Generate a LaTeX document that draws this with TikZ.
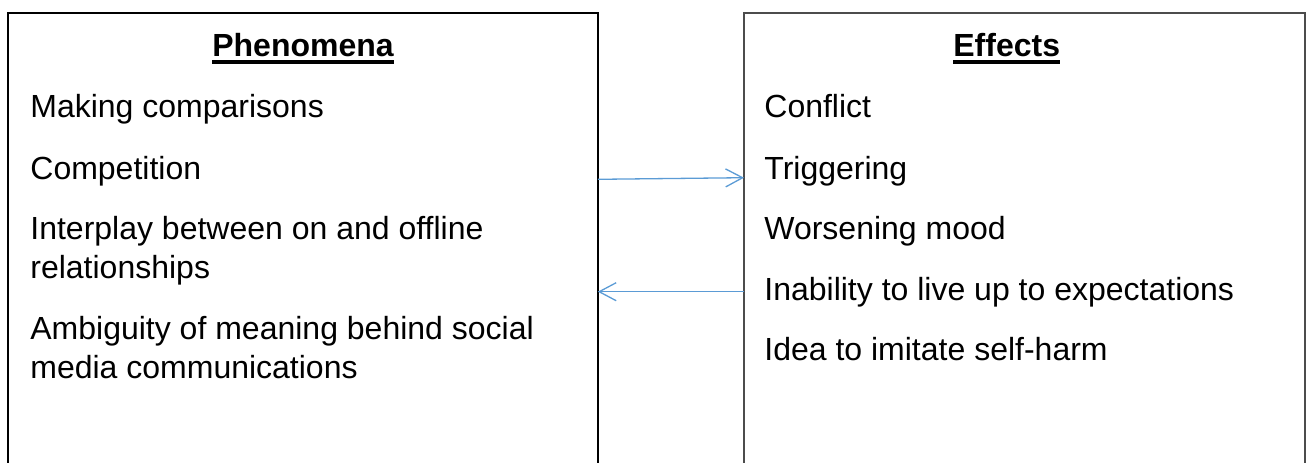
\documentclass[tikz,border=0pt]{standalone}
\usepackage{fontspec}
\setmainfont{Liberation Sans}
\usetikzlibrary{arrows.meta,positioning}
\definecolor{linkblue}{HTML}{5B9BD5}
\newcommand{\headtext}[1]{\setbox0\hbox{\bfseries #1}\rlap{\rule[-3.9pt]{\wd0}{1.9pt}}\box0}

\begin{document}
\begin{tikzpicture}[x=0.5pt,y=-0.5pt,
    panel/.style={rectangle, draw=none, inner sep=0pt, anchor=north west},
    item/.style={anchor=base west, align=left, inner sep=0pt, font=\fontsize{16}{19.15}\selectfont},
    heading/.style={anchor=base, inner sep=0pt, font=\fontsize{16}{19.15}\selectfont},
    link/.style={draw=linkblue, line width=0.65pt, -{Straight Barb[length=8.5pt,width=9pt]}}]
    \useasboundingbox (0,0) rectangle (1311,462);

    % the two panels, open at the bottom
    \node[panel, minimum width=294.5pt, minimum height=224.5pt] (phen) at (8,13) {};
    \node[panel, minimum width=280pt, minimum height=224.5pt] (eff) at (744,13) {};
    \draw[line width=1pt] (phen.south west) -- (phen.north west) -- (phen.north east) -- (phen.south east);
    \draw[line width=1pt, black!70] (eff.south west) -- (eff.north west) -- (eff.north east) -- (eff.south east);

    % left column (base of a two-line item is its last line)
    \node[heading] (phen_h) at (303,56) {\headtext{Phenomena}};
    \node[item] (comp) at (30,117) {Making comparisons};
    \node[item] (compet) at (30,179) {Competition};
    \node[item] (inter) at (30,278) {Interplay between on and offline\\relationships};
    \node[item] (ambig) at (30,378) {Ambiguity of meaning behind social\\media communications};

    % right column
    \node[heading] (eff_h) at (1006.7,56) {\headtext{Effects}};
    \node[item] (confl) at (764,117) {Conflict};
    \node[item] (trig) at (764,179) {Triggering};
    \node[item] (mood) at (764,239.7) {Worsening mood};
    \node[item] (unable) at (764,300) {Inability to live up to expectations};
    \node[item] (imit) at (764,360) {Idea to imitate self-harm};

    \coordinate (fwd) at (0,179.3);
    \coordinate (fwd_end) at (0,177.7);
    \coordinate (back) at (0,291.7);
    \draw[link] (phen.east |- fwd) -- (eff.west |- fwd_end);
    \draw[link] (eff.west |- back) -- (phen.east |- back);
\end{tikzpicture}
\end{document}
